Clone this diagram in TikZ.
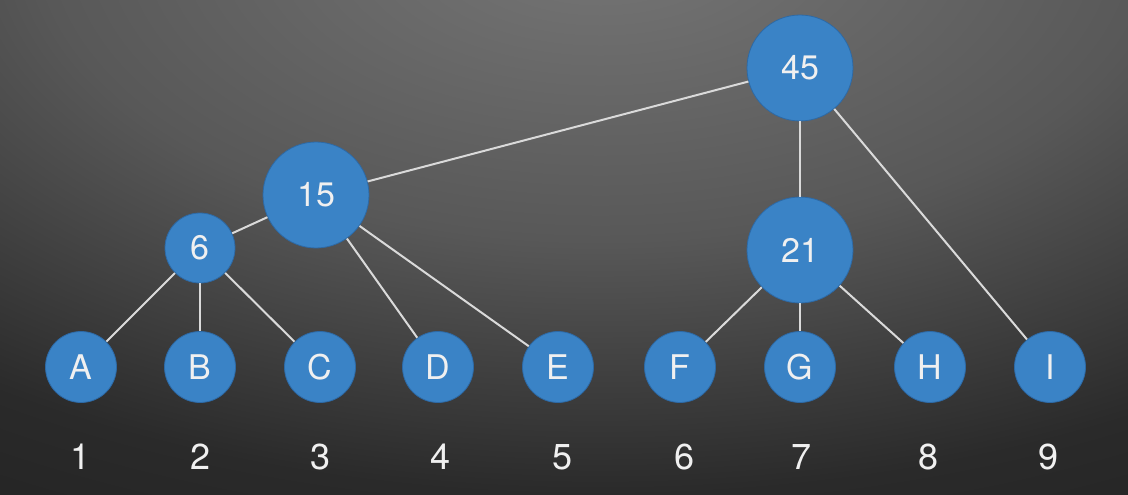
\documentclass[tikz,border=0pt]{standalone}
\usepackage{fontspec}
\setmainfont{TeX Gyre Heros}
\definecolor{nodeblue}{RGB}{58,131,198}
\definecolor{nodeedge}{RGB}{45,105,165}
\definecolor{edgegray}{RGB}{218,218,218}
\definecolor{bgA}{RGB}{118,118,118}
\definecolor{bgB}{RGB}{88,88,88}
\definecolor{bgC}{RGB}{42,42,42}
\definecolor{bgD}{RGB}{32,32,32}
\definecolor{txt}{RGB}{240,240,240}
\pgfdeclareradialshading{bgshade}{\pgfpoint{0bp}{0bp}}{color(0bp)=(bgA); color(10bp)=(bgB); color(18.5bp)=(bgC); color(25bp)=(bgD); color(50bp)=(bgD)}
\begin{document}
\begin{tikzpicture}[x=1pt,y=-1pt,
  tnode/.style={circle,fill=nodeblue,draw=nodeedge,line width=0.8pt,inner sep=0pt,text=txt,font=\fontsize{34}{38}\selectfont},
  leaf/.style={tnode,minimum size=71pt},
  mid/.style={tnode,minimum size=106pt},
  small/.style={tnode,minimum size=70pt},
  lbl/.style={text=txt,font=\fontsize{36}{40}\selectfont},
  link/.style={draw=edgegray,line width=2pt}]
\useasboundingbox (0,0) rectangle (1128,495);
\begin{scope}
\clip (0,0) rectangle (1128,495);
\fill[bgD] (0,0) rectangle (1128,495);
\shade[shading=bgshade] (600,-60) ellipse [x radius=1400, y radius=750];
\end{scope}
% nodes
\node[mid] (n45) at (800,68) {45};
\node[mid] (n15) at (316,195) {15};
\node[mid] (n21) at (800,250) {21};
\node[small] (n6) at (200,248) {6};
\node[leaf] (A) at (81,367) {A};
\node[leaf] (B) at (200,367) {B};
\node[leaf] (C) at (320,367) {C};
\node[leaf] (D) at (438,367) {D};
\node[leaf] (E) at (558,367) {E};
\node[leaf] (F) at (680,367) {F};
\node[leaf] (G) at (800,367) {G};
\node[leaf] (H) at (930,367) {H};
\node[leaf] (I) at (1050,367) {I};
% edges
\path[link] (n45) -- (n15);
\path[link] (n45) -- (n21);
\path[link] (n45) -- (I);
\path[link] (n15) -- (n6);
\path[link] (n15) -- (D);
\path[link] (n15) -- (E);
\path[link] (n6) -- (A);
\path[link] (n6) -- (B);
\path[link] (n6) -- (C);
\path[link] (n21) -- (F);
\path[link] (n21) -- (G);
\path[link] (n21) -- (H);
% numbers
\node[lbl] (l1) at (81,457) {1};
\node[lbl] (l2) at (201,457) {2};
\node[lbl] (l3) at (321,457) {3};
\node[lbl] (l4) at (441,457) {4};
\node[lbl] (l5) at (563,457) {5};
\node[lbl] (l6) at (685,457) {6};
\node[lbl] (l7) at (802,457) {7};
\node[lbl] (l8) at (928,457) {8};
\node[lbl] (l9) at (1048,457) {9};
\end{tikzpicture}
\end{document}
